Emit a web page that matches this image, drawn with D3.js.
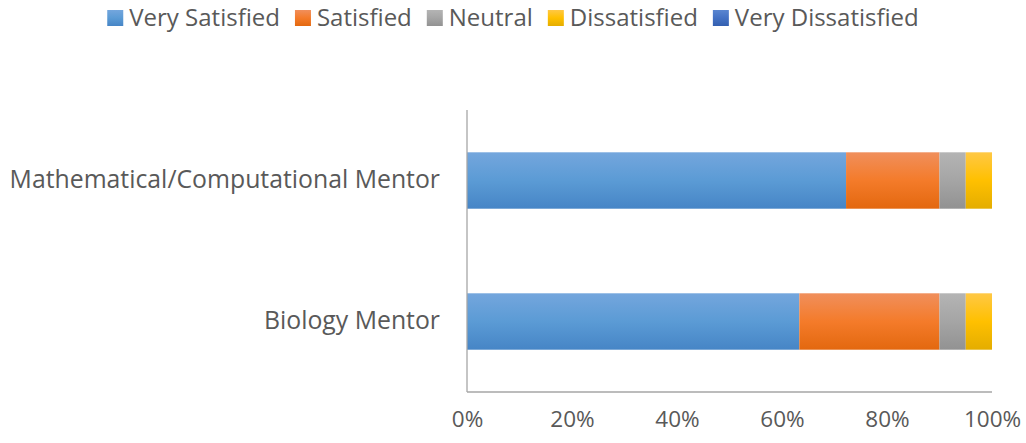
<!DOCTYPE html>
<html>
<head>
<meta charset="utf-8">
<script src="https://cdn.jsdelivr.net/npm/d3@7"></script>
<style>
  body { margin: 0; background: #fff; }
  text { font-family: "Open Sans", Lato, sans-serif; fill: #595959; }
</style>
</head>
<body>
<div id="chart"></div>
<script>
var categories = ["Mathematical/Computational Mentor", "Biology Mentor"];
var seriesNames = ["Very Satisfied", "Satisfied", "Neutral", "Dissatisfied", "Very Dissatisfied"];
var verySatisfied = [72.2, 63.3];
var satisfied = [17.8, 26.7];
var neutral = [5.0, 5.0];
var dissatisfied = [5.0, 5.0];
var veryDissatisfied = [0, 0];
var tickValues = [0, 20, 40, 60, 80, 100];

var colors = [
  ["#74a6dd", "#5b9bd5", "#4685c6"],
  ["#f08f5c", "#f47b2a", "#e3680f"],
  ["#b4b4b4", "#a5a5a5", "#929292"],
  ["#ffc845", "#ffc000", "#e4ad00"],
  ["#5a86d0", "#4472c4", "#335fb0"]
];

var W = 1026, H = 443;
var margin = {top: 110, right: 34, bottom: 51, left: 467};
var width = W - margin.left - margin.right,
    height = H - margin.top - margin.bottom;

var svg = d3.select("#chart").append("svg")
  .attr("width", W).attr("height", H);

var defs = svg.append("defs");
colors.forEach(function(c, i) {
  var g = defs.append("linearGradient").attr("id", "grad" + i)
    .attr("x1", 0).attr("y1", 0).attr("x2", 0).attr("y2", 1);
  g.append("stop").attr("offset", "0%").attr("stop-color", c[0]);
  g.append("stop").attr("offset", "50%").attr("stop-color", c[1]);
  g.append("stop").attr("offset", "100%").attr("stop-color", c[2]);
});

var data = categories.map(function(cat, i) {
  return {
    cat: cat,
    "Very Satisfied": verySatisfied[i],
    "Satisfied": satisfied[i],
    "Neutral": neutral[i],
    "Dissatisfied": dissatisfied[i],
    "Very Dissatisfied": veryDissatisfied[i]
  };
});

var stacked = d3.stack().keys(seriesNames)(data);

var g = svg.append("g").attr("transform", `translate(${margin.left},${margin.top})`);

var x = d3.scaleLinear().domain([0, 100]).range([0, width]);
var y = d3.scaleBand().domain(categories).range([0, height])
  .paddingInner(0.6).paddingOuter(0.3);

// bars
g.selectAll(".series")
  .data(stacked)
  .join("g")
    .attr("class", "series")
    .attr("fill", (d, i) => `url(#grad${i})`)
  .selectAll("rect")
  .data(d => d)
  .join("rect")
    .attr("x", d => x(d[0]))
    .attr("y", d => y(d.data.cat))
    .attr("width", d => x(d[1]) - x(d[0]))
    .attr("height", y.bandwidth());

// axes
g.append("line")
  .attr("x1", 0).attr("x2", 0).attr("y1", 0).attr("y2", height)
  .attr("stroke", "#a6a6a6").attr("stroke-width", 1.3);
g.append("line")
  .attr("x1", 0).attr("x2", width).attr("y1", height).attr("y2", height)
  .attr("stroke", "#a6a6a6").attr("stroke-width", 1.3);

var xAxis = g.append("g")
  .attr("transform", `translate(0,${height})`)
  .call(d3.axisBottom(x).tickValues(tickValues).tickSize(0).tickPadding(19).tickFormat(d => d + "%"));
xAxis.select(".domain").remove();
xAxis.selectAll("text").style("font-size", "22.5px").attr("fill", "#595959").attr("dy", "0.71em")
  .style("font-family", "'Open Sans', sans-serif");

var yAxis = g.append("g")
  .call(d3.axisLeft(y).tickSize(0).tickPadding(27));
yAxis.select(".domain").remove();
yAxis.selectAll("text").style("font-size", "24.8px").attr("fill", "#595959")
  .style("font-family", "'Open Sans', sans-serif");

// legend
var legend = svg.append("g");
var lx = 0;
seriesNames.forEach(function(name, i) {
  var item = legend.append("g").attr("transform", `translate(${lx},0)`);
  item.append("rect").attr("x", 0).attr("y", -8).attr("width", 16).attr("height", 16)
    .attr("fill", `url(#grad${i})`);
  var t = item.append("text").attr("x", 22).attr("y", 0).attr("dy", "0.35em")
    .style("font-size", "24px").text(name);
  lx += 22 + t.node().getComputedTextLength() + 15;
});
lx -= 15;
legend.attr("transform", `translate(${(W - lx) / 2 + 0},18)`);
</script>
</body>
</html>
